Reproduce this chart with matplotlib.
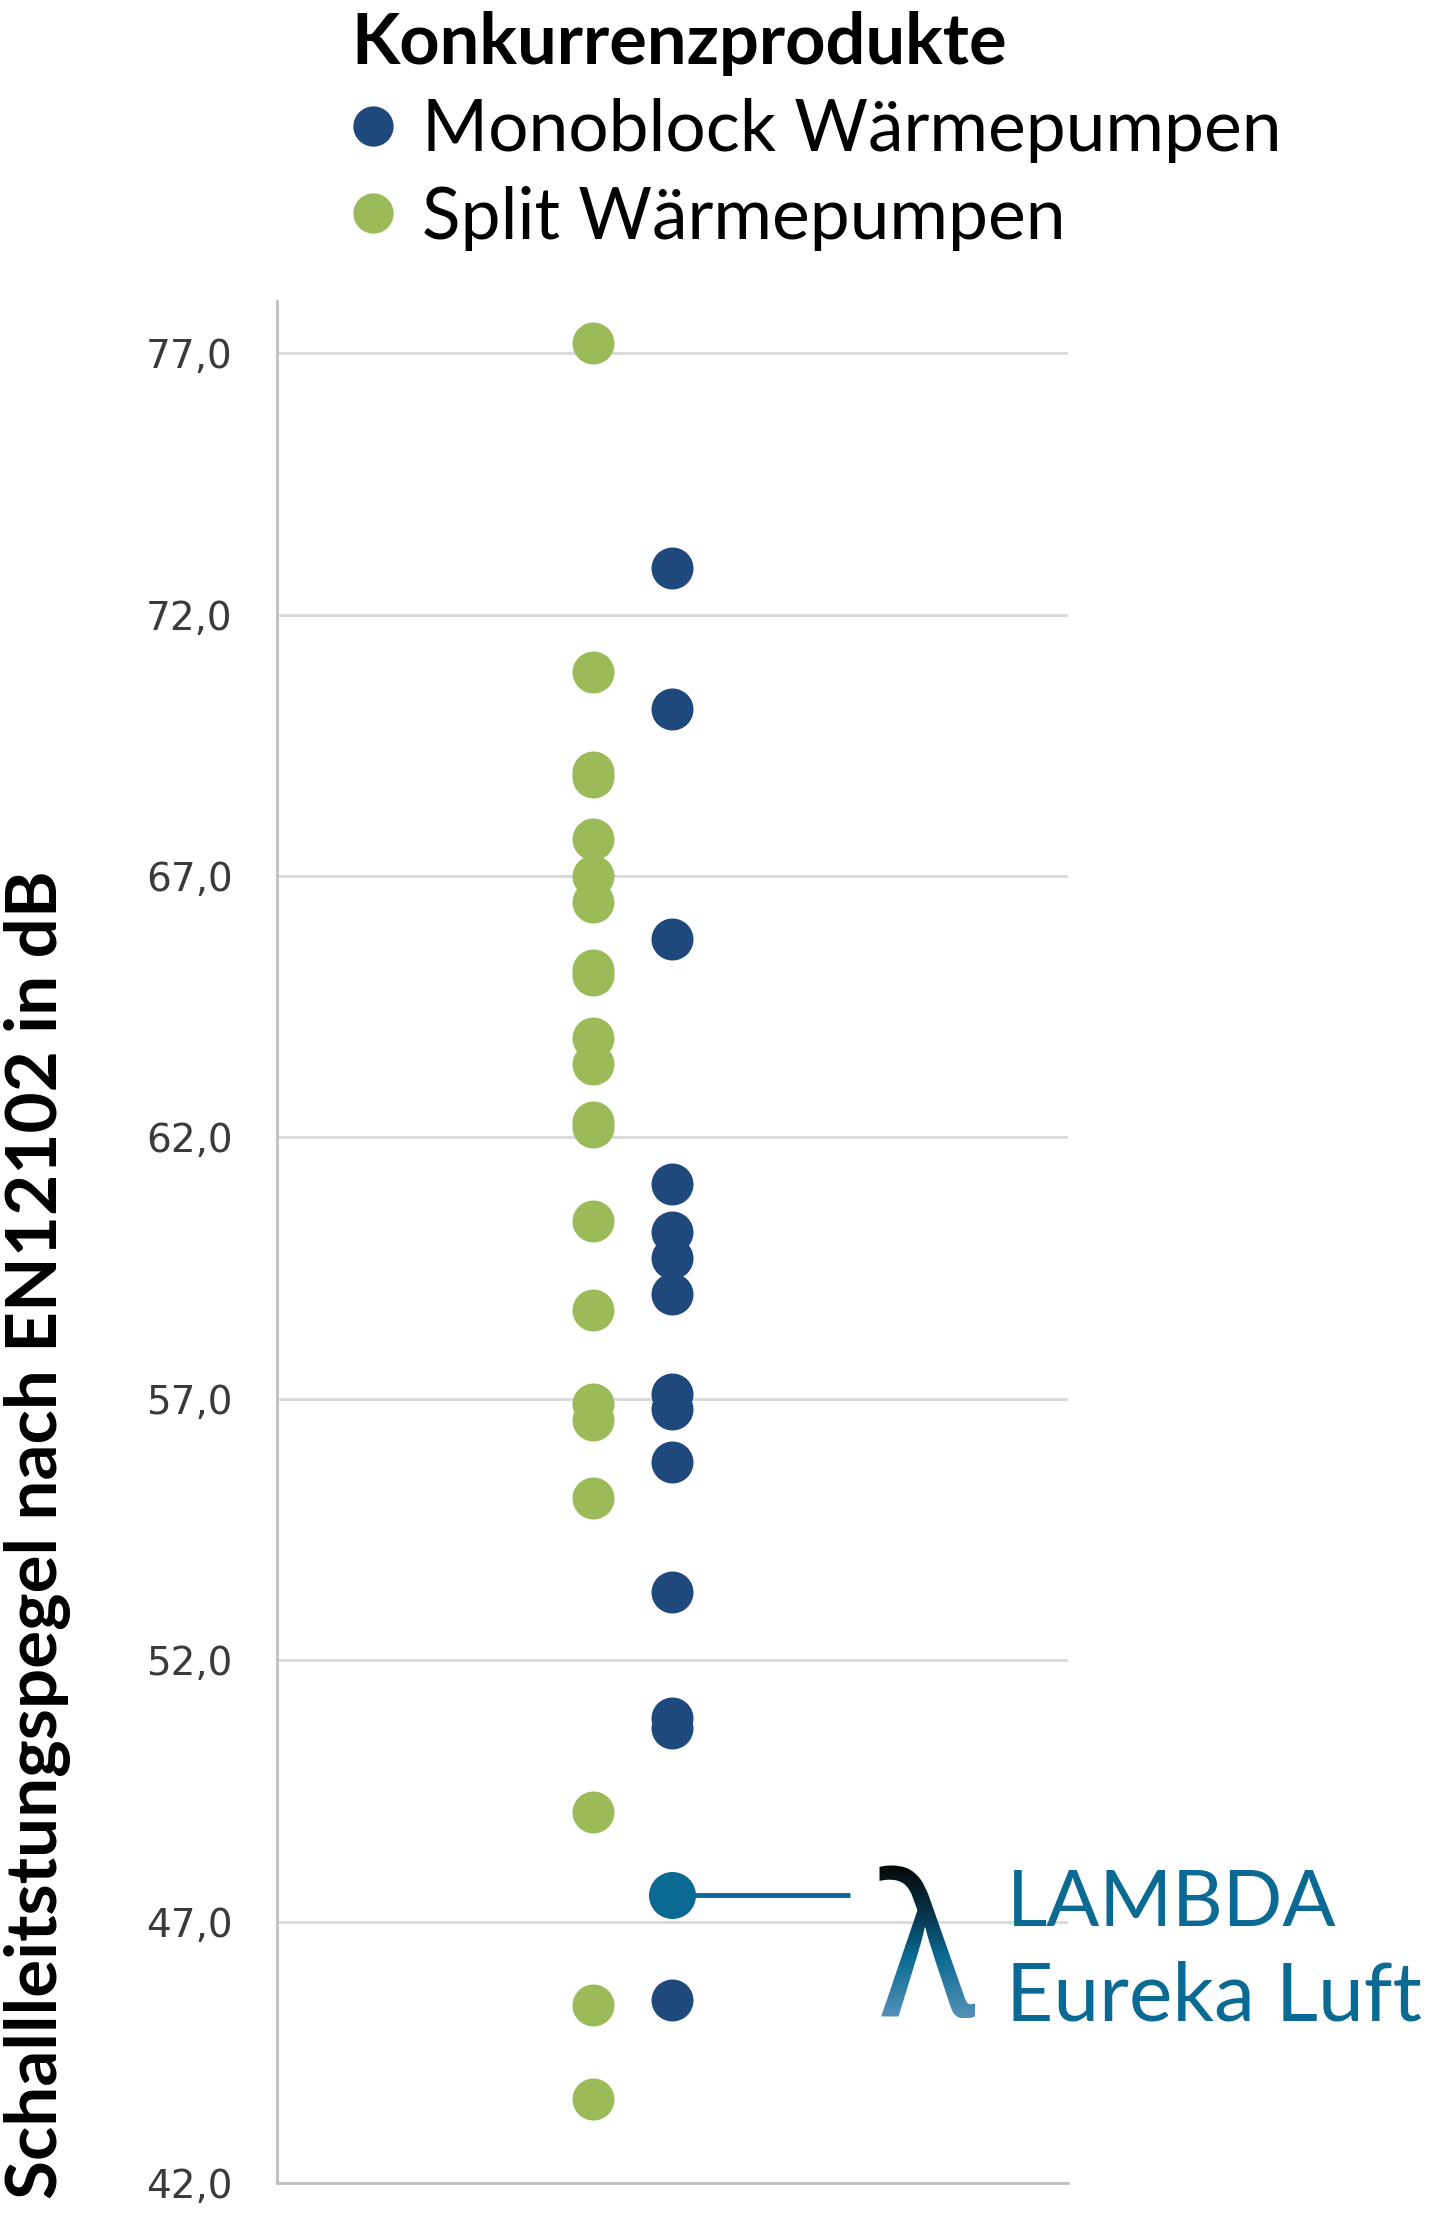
import numpy as np
import matplotlib
matplotlib.use("Agg")
import matplotlib.pyplot as plt
from matplotlib.lines import Line2D
from matplotlib.textpath import TextPath
from matplotlib.patches import PathPatch
from matplotlib.font_manager import FontProperties
from matplotlib.colors import LinearSegmentedColormap
from matplotlib.transforms import Affine2D

# ---------------- Daten (Schallleistungspegel in dB) ----------------
split_vals = [77.2, 70.9, 69.0, 68.9, 67.7, 67.0, 66.5, 65.2, 65.1, 63.9, 63.4,
              62.3, 62.2, 60.4, 58.7, 56.9, 56.6, 55.1, 49.1, 45.4, 43.6]
mono_vals = [72.9, 70.2, 65.8, 61.1, 60.2, 59.7, 59.0, 57.1, 56.8, 55.8, 53.3,
             50.9, 50.7, 45.5]
lambda_val = 47.5

legend_labels = ["Monoblock Wärmepumpen", "Split Wärmepumpen"]
legend_title = "Konkurrenzprodukte"
y_ticks = [42, 47, 52, 57, 62, 67, 72, 77]
y_label = "Schallleitstungspegel nach EN12102 in dB"
lambda_lines = ["LAMBDA", "Eureka Luft"]
# --------------------------------------------------------------------

GREEN = "#9BBB59"
BLUE = "#1F497D"
TEAL = "#0A6A93"
W, H = 1441, 2218

fig = plt.figure(figsize=(W / 100, H / 100), dpi=100)
ax = fig.add_axes([277 / W, 35 / H, (1068 - 277) / W, (2183 - 301) / H])

ax.scatter(np.zeros(len(split_vals)), split_vals, s=914, color=GREEN, lw=0, zorder=3)
ax.scatter(np.ones(len(mono_vals)), mono_vals, s=914, color=BLUE, lw=0, zorder=3)
ax.plot([1, 3.24], [lambda_val, lambda_val], color=TEAL, lw=3.5,
        solid_capstyle="butt", zorder=2)
ax.scatter([1], [lambda_val], s=1145, color=TEAL, lw=0, zorder=4)

ax.set_xlim(-3.98, 5.98)
ax.set_ylim(42, 78)
ax.set_xticks([])
ax.set_yticks(y_ticks)
ax.set_yticklabels([f"{v:.1f}".replace(".", ",") for v in y_ticks])
ax.tick_params(axis="y", length=0, pad=32, labelsize=28, labelcolor="#3a3a3a")
ax.set_axisbelow(True)
ax.yaxis.grid(True, color="#d9d9d9", lw=2)
for s in ["top", "right"]:
    ax.spines[s].set_visible(False)
for s in ["left", "bottom"]:
    ax.spines[s].set_color("#bfbfbf")
    ax.spines[s].set_linewidth(2)

ax.set_ylabel(y_label, fontfamily="Lato", fontweight="bold", fontsize=56, color="black")
ax.yaxis.set_label_coords(-0.3034, 0.3443)
ax.yaxis.label.set_verticalalignment("center")

handles = [Line2D([], [], ls="none", marker="o", ms=29, mfc=BLUE, mec="none"),
           Line2D([], [], ls="none", marker="o", ms=29, mfc=GREEN, mec="none")]
leg = ax.legend(handles, legend_labels, loc="upper left",
                bbox_to_anchor=(351 / W, 1 - 11 / H), bbox_transform=fig.transFigure,
                frameon=False, prop={"family": "Lato", "size": 52},
                title=legend_title,
                title_fontproperties={"family": "Lato", "weight": "bold", "size": 51},
                alignment="left", borderpad=0, borderaxespad=0,
                handlelength=0.61, handletextpad=0.37, labelspacing=0.31)

t1 = ax.annotate(lambda_lines[0], xy=(1, lambda_val), xytext=(334, -31),
                 textcoords="offset pixels", fontfamily="Lato", fontsize=61,
                 color=TEAL, ha="left", va="baseline")
t2 = ax.annotate(lambda_lines[1], xy=(1, lambda_val), xytext=(334, -125),
                 textcoords="offset pixels", fontfamily="Lato", fontsize=61,
                 color=TEAL, ha="left", va="baseline")

# Schriftgroessen an die Vorlage anpassen
renderer = fig.canvas.get_renderer()


def fit(txt, target):
    bb = txt.get_window_extent(renderer)
    txt.set_fontsize(txt.get_fontsize() * target / max(bb.width, bb.height))


fit(ax.yaxis.label, 1329)
fit(leg.get_title(), 657)
fit(leg.get_texts()[0], 860)
leg.get_texts()[1].set_fontsize(leg.get_texts()[0].get_fontsize())
fit(t2, 417)
fit(t1, 330)

# Lambda-Zeichen mit Farbverlauf
px, py = ax.transData.transform((1, lambda_val))
ov = fig.add_axes([0, 0, 1, 1], zorder=5)
ov.set_xlim(0, W)
ov.set_ylim(0, H)
ov.axis("off")
tp = TextPath((0, 0), "λ", size=100, prop=FontProperties(family="Noto Sans"))
ext = tp.get_extents()
x0, x1 = px + 207, px + 303
ytop, ybot = py + 30, py - 123
tr = Affine2D().translate(-ext.x0, -ext.y0).scale((x1 - x0) / ext.width,
                                                  (ytop - ybot) / ext.height).translate(x0, ybot)
patch = PathPatch(tr.transform_path(tp), fc="none", ec="none", transform=ov.transData)
ov.add_patch(patch)
cmap = LinearSegmentedColormap.from_list(
    "lam", [(0, "#050505"), (0.35, "#073a52"), (0.6, "#0a6a92"), (1, "#5592b8")])
grad = np.linspace(0, 1, 256).reshape(-1, 1)
im = ov.imshow(grad, extent=[x0, x1, ybot, ytop], origin="upper", aspect="auto", cmap=cmap)
im.set_clip_path(patch)
ov.set_xlim(0, W)
ov.set_ylim(0, H)

fig.savefig("out.png", dpi=100)
